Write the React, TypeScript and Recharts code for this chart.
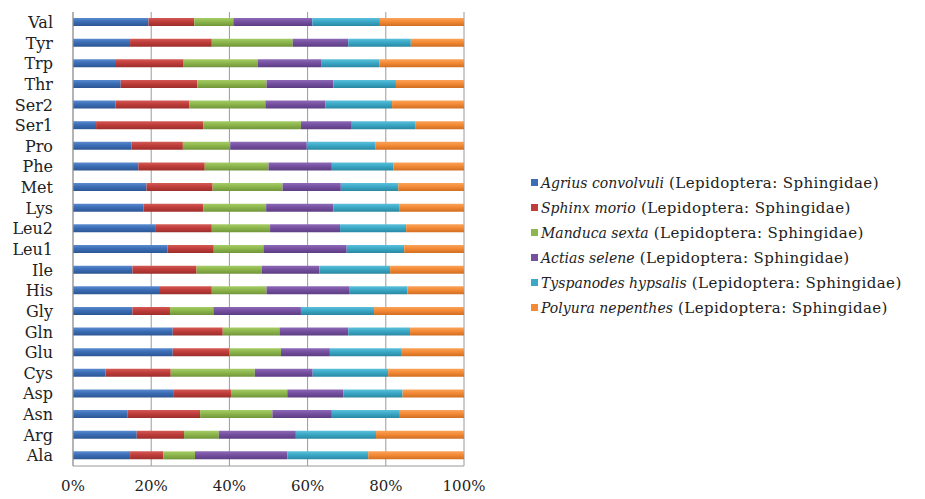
import { BarChart, Bar, XAxis, YAxis, CartesianGrid, Legend } from 'recharts';

const aminoAcids = [
  'Val', 'Tyr', 'Trp', 'Thr', 'Ser2', 'Ser1', 'Pro', 'Phe', 'Met', 'Lys', 'Leu2',
  'Leu1', 'Ile', 'His', 'Gly', 'Gln', 'Glu', 'Cys', 'Asp', 'Asn', 'Arg', 'Ala',
];

const agrius = [19.3, 14.6, 11.0, 12.2, 10.9, 5.9, 15.0, 16.7, 18.8, 18.0, 21.0, 24.2, 15.2, 22.0, 15.2, 25.5, 25.5, 8.3, 25.8, 14.0, 16.3, 14.6];
const sphinx = [11.7, 20.9, 17.3, 19.6, 18.9, 27.4, 13.1, 17.0, 16.9, 15.3, 14.5, 11.8, 16.4, 13.5, 9.6, 12.8, 14.5, 16.7, 14.6, 18.5, 12.1, 8.5];
const manduca = [10.0, 20.7, 18.9, 17.7, 19.4, 25.0, 12.1, 16.3, 17.9, 16.1, 14.9, 12.7, 16.7, 14.0, 11.1, 14.5, 13.2, 21.5, 14.4, 18.5, 8.9, 8.1];
const actias = [20.2, 14.2, 16.4, 17.1, 15.4, 13.0, 19.6, 16.2, 14.9, 17.2, 17.9, 21.3, 14.7, 21.1, 22.4, 17.6, 12.5, 14.8, 14.3, 15.2, 19.7, 23.6];
const tyspanodes = [17.3, 16.0, 14.7, 16.0, 17.0, 16.2, 17.6, 15.7, 14.7, 16.8, 16.9, 14.7, 18.1, 14.9, 18.7, 15.8, 18.4, 19.3, 15.2, 17.4, 20.5, 20.7];
const polyura = [21.5, 13.6, 21.7, 17.4, 18.4, 12.5, 22.6, 18.1, 16.8, 16.6, 14.8, 15.3, 18.9, 14.5, 23.0, 13.8, 15.9, 19.4, 15.7, 16.4, 22.5, 24.5];

const percentTicks = [0, 0.2, 0.4, 0.6, 0.8, 1];

const series = [
  { key: 'agrius', species: 'Agrius convolvuli', color: '#3b6db5', light: '#5a8bd0', dark: '#2c5694', values: agrius },
  { key: 'sphinx', species: 'Sphinx morio', color: '#bf3d3a', light: '#d45a56', dark: '#9c2e2b', values: sphinx },
  { key: 'manduca', species: 'Manduca sexta', color: '#8db64c', light: '#a5cc66', dark: '#71953a', values: manduca },
  { key: 'actias', species: 'Actias selene', color: '#7550a0', light: '#8d6ab8', dark: '#5c3d82', values: actias },
  { key: 'tyspanodes', species: 'Tyspanodes hypsalis', color: '#3aa8c6', light: '#5cc0da', dark: '#2a88a2', values: tyspanodes },
  { key: 'polyura', species: 'Polyura nepenthes', color: '#f48a36', light: '#f9a35a', dark: '#d06e22', values: polyura },
];

const data = aminoAcids.map((name, i) => {
  const row: Record<string, string | number> = { name };
  series.forEach(s => { row[s.key] = s.values[i]; });
  return row;
});

const serif = 'DejaVu Serif';

function SpeciesLegend() {
  return (
    <div style={{ fontFamily: serif, color: '#222', whiteSpace: 'nowrap' }}>
      {series.map(s => (
        <div key={s.key} style={{ display: 'flex', alignItems: 'center', height: 25 }}>
          <span style={{ display: 'inline-block', width: 7, height: 7, background: s.color, marginRight: 3 }} />
          <span style={{ fontStyle: 'italic', fontSize: 14 }}>{s.species}</span>
          <span style={{ whiteSpace: 'pre', fontSize: 15, letterSpacing: 0.4 }}> (Lepidoptera: Sphingidae)</span>
        </div>
      ))}
    </div>
  );
}

export default function App() {
  return (
    <div style={{ position: 'absolute', left: 0, top: 0, background: '#fff' }}>
      <BarChart
        width={925}
        height={499}
        data={data}
        layout="vertical"
        stackOffset="expand"
        barSize={8}
        margin={{ top: 12, right: 461, left: 0, bottom: 0 }}
      >
        <defs>
          {series.map(s => (
            <linearGradient key={s.key} id={`grad-${s.key}`} x1="0" y1="0" x2="0" y2="1">
              <stop offset="0%" stopColor={s.light} />
              <stop offset="45%" stopColor={s.color} />
              <stop offset="100%" stopColor={s.dark} />
            </linearGradient>
          ))}
        </defs>
        <CartesianGrid horizontal={false} vertical={true} stroke="#9a9a9a" />
        <XAxis
          type="number"
          domain={[0, 1]}
          ticks={percentTicks}
          tickFormatter={v => `${Math.round(v * 100)}%`}
          height={33}
          tickLine={false}
          tickMargin={8}
          axisLine={{ stroke: '#9a9a9a' }}
          tick={{ fill: '#222', fontSize: 15, fontFamily: serif }}
        />
        <YAxis
          type="category"
          dataKey="name"
          width={73}
          tickLine={false}
          tickMargin={14}
          axisLine={{ stroke: '#9a9a9a' }}
          interval={0}
          tick={{ fill: '#222', fontSize: 16, fontFamily: serif }}
        />
        <Legend
          layout="vertical"
          align="center"
          verticalAlign="middle"
          content={() => <SpeciesLegend />}
          wrapperStyle={{ left: 531, top: 170, width: 394, height: 160 }}
        />
        {series.map(s => (
          <Bar key={s.key} dataKey={s.key} stackId="a" fill={`url(#grad-${s.key})`} isAnimationActive={false} />
        ))}
      </BarChart>
    </div>
  );
}
